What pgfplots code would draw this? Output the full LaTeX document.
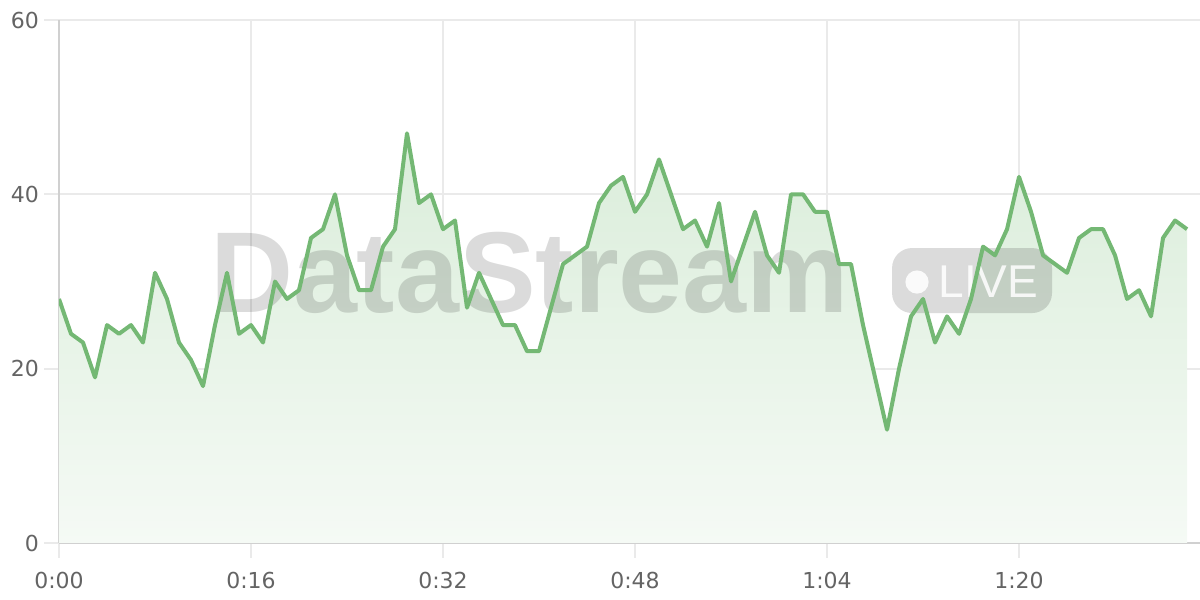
\documentclass[border=0pt]{standalone}
\usepackage{fontspec}
\setmainfont{Liberation Sans}
\newfontfamily\tickfont{DejaVu Sans}
\usepackage{pgfplots}
\usepackage{pgfplotstable}
\pgfplotsset{compat=1.18}
\definecolor{linegreen}{RGB}{116,184,116}
\definecolor{gridc}{RGB}{234,234,234}
\definecolor{axisc}{RGB}{208,208,208}
\definecolor{tickc}{RGB}{100,100,100}
\definecolor{filltop}{RGB}{218,237,218}
\definecolor{fillbot}{RGB}{245,250,245}
\pgfplotstableread{
t v
0 28
1 24
2 23
3 19
4 25
5 24
6 25
7 23
8 31
9 28
10 23
11 21
12 18
13 25
14 31
15 24
16 25
17 23
18 30
19 28
20 29
21 35
22 36
23 40
24 33
25 29
26 29
27 34
28 36
29 47
30 39
31 40
32 36
33 37
34 27
35 31
36 28
37 25
38 25
39 22
40 22
41 27
42 32
43 33
44 34
45 39
46 41
47 42
48 38
49 40
50 44
51 40
52 36
53 37
54 34
55 39
56 30
57 34
58 38
59 33
60 31
61 40
62 40
63 38
64 38
65 32
66 32
67 25
68 19
69 13
70 20
71 26
72 28
73 23
74 26
75 24
76 28
77 34
78 33
79 36
80 42
81 38
82 33
83 32
84 31
85 35
86 36
87 36
88 33
89 28
90 29
91 26
92 35
93 37
94 36
}\datatable
\begin{document}
\begin{tikzpicture}[x=1pt,y=1pt]
\path[use as bounding box] (0,0) rectangle (600,300);
\begin{axis}[
  at={(29.5pt,28.5pt)}, anchor=south west,
  scale only axis, width=570.5pt, height=261.5pt,
  xmin=0, xmax=95.08, ymin=0, ymax=60,
  xtick={0,16,32,48,64,80},
  xticklabels={0:00,0:16,0:32,0:48,1:04,1:20},
  ytick={0,20,40,60},
  axis lines*=left,
  axis line style={axisc, line width=1pt},
  grid=major,
  major grid style={gridc, line width=1pt},
  tick align=outside, major tick length=7.5pt,
  tick style={gridc, line width=1pt},
  ticklabel style={font=\tickfont\fontsize{11}{13}\selectfont, text=tickc},
  xticklabel style={yshift=-3.5pt},
  yticklabel style={/pgf/number format/assume math mode=true, xshift=1pt},
]
\addplot[draw=none, top color=filltop, bottom color=fillbot] table[x=t,y=v] {\datatable} \closedcycle;
\node[anchor=base west, inner sep=0pt, text=black, text opacity=0.14,
  font=\bfseries\fontsize{57.5}{60}\selectfont] at (axis cs:12.55,26.39) {DataStream};
\fill[black, opacity=0.14, rounded corners=10pt] (axis cs:69.42,26.38) rectangle (axis cs:82.75,33.84);
\fill[white, opacity=0.85] (axis cs:71.5,29.94) circle[radius=5.8pt];
\node[anchor=base west, inner sep=0pt, text=white, text opacity=0.85,
  font=\fontsize{23}{25}\selectfont] at (axis cs:73.25,28.2) {LIVE};
\addplot[linegreen, line width=2pt, line join=round, mark=none] table[x=t,y=v] {\datatable};
\end{axis}
\end{tikzpicture}
\end{document}
